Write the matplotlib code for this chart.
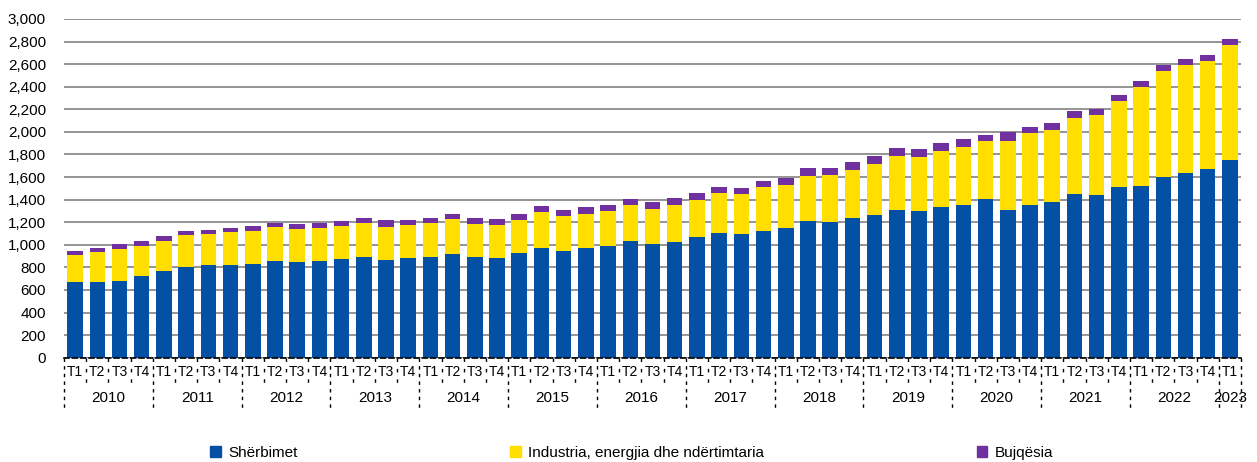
import numpy as np
import matplotlib
matplotlib.use('Agg')
import matplotlib.pyplot as plt
import matplotlib.transforms as mtransforms
from matplotlib.patches import Patch

plt.rcParams['font.family'] = ['Liberation Sans', 'DejaVu Sans']

years = ['2010', '2011', '2012', '2013', '2014', '2015', '2016',
         '2017', '2018', '2019', '2020', '2021', '2022', '2023']
quarters = ['T1', 'T2', 'T3', 'T4'] * 13 + ['T1']

# sherbimet (blue), industria (yellow), bujqesia (purple)
sherbimet = [667, 673, 682, 723, 771, 803, 818, 824, 827, 853, 845, 859, 871, 895, 868, 880,
             892, 921, 892, 886, 924, 975, 948, 975, 992, 1034, 1007, 1025, 1066, 1101, 1096, 1125,
             1149, 1211, 1205, 1234, 1264, 1308, 1302, 1338, 1355, 1403, 1308, 1350, 1376, 1453,
             1444, 1512, 1524, 1601, 1636, 1671, 1754]
industria = [240, 260, 278, 263, 266, 281, 275, 286, 295, 302, 295, 293, 292, 295, 292, 292,
             298, 307, 295, 289, 299, 312, 310, 301, 304, 316, 313, 325, 334, 358, 357, 384,
             378, 401, 416, 432, 449, 476, 479, 493, 508, 516, 611, 637, 641, 673,
             706, 762, 874, 936, 954, 954, 1013]
bujqesia = [38, 42, 44, 45, 38, 41, 41, 39, 44, 41, 41, 44, 48, 47, 57, 45,
            44, 48, 47, 51, 50, 54, 53, 59, 54, 56, 59, 62, 56, 50, 53, 53,
            65, 65, 62, 64, 74, 73, 68, 71, 71, 51, 80, 54, 59, 62,
            53, 53, 53, 59, 56, 59, 56]

c_blue = '#0450A4'
c_yellow = '#FFDE00'
c_purple = '#7030A0'

fig = plt.figure(figsize=(12.57, 4.62), dpi=100)
ax = fig.add_axes([0.0509, 0.2258, 0.9364, 0.7331])

x = np.arange(len(sherbimet))
s = np.array(sherbimet)
ind = np.array(industria)
bq = np.array(bujqesia)
w = 0.7
ax.bar(x, s, w, color=c_blue, zorder=3)
ax.bar(x, ind, w, bottom=s, color=c_yellow, zorder=3)
ax.bar(x, bq, w, bottom=s + ind, color=c_purple, zorder=3)

ax.set_ylim(0, 3000)
ax.set_xlim(-0.5, len(x) - 0.5)
ax.set_yticks(np.arange(0, 3001, 200))
ax.set_yticklabels([f'{v:,}' for v in range(0, 3001, 200)], fontsize=11)
ax.yaxis.grid(True, color='#8c8c8c', linewidth=1.3, zorder=0)
ax.tick_params(axis='y', length=0, pad=13)
for sp in ['left', 'right', 'top']:
    ax.spines[sp].set_visible(False)
ax.spines['bottom'].set_linestyle((0, (3, 2)))
ax.spines['bottom'].set_linewidth(1.2)
ax.spines['bottom'].set_zorder(4)

ax.set_xticks(x)
ax.set_xticklabels(quarters, fontsize=10)
ax.tick_params(axis='x', length=0, pad=5)

# category axis separators (excel style)
trans = mtransforms.blended_transform_factory(ax.transData, ax.transAxes)
for i in range(len(x) + 1):
    xb = i - 0.5
    if i % 4 == 0 or i == len(x):
        ax.plot([xb, xb], [0, -0.15], transform=trans, color='black', lw=1,
                ls=(0, (2.5, 3)), clip_on=False)
    else:
        ax.plot([xb, xb], [0, -0.077], transform=trans, color='black', lw=1,
                ls=(0, (2.5, 5)), clip_on=False)

for k, yr in enumerate(years):
    n = 4 if k < len(years) - 1 else 1
    xc = k * 4 + (n - 1) / 2
    ax.text(xc, -0.118, yr, transform=trans, ha='center', va='center', fontsize=11)

handles = [Patch(color=c_blue), Patch(color=c_yellow), Patch(color=c_purple)]
labels = ['Shërbimet', 'Industria, energjia dhe ndërtimtaria', 'Bujqësia']
fig.legend(handles, labels, loc='center', bbox_to_anchor=(0.5026, 0.02), ncol=3,
           frameon=False, fontsize=11, handlelength=0.7, handleheight=0.7,
           handletextpad=0.5, columnspacing=13.9)

plt.savefig('out.png', dpi=100)
